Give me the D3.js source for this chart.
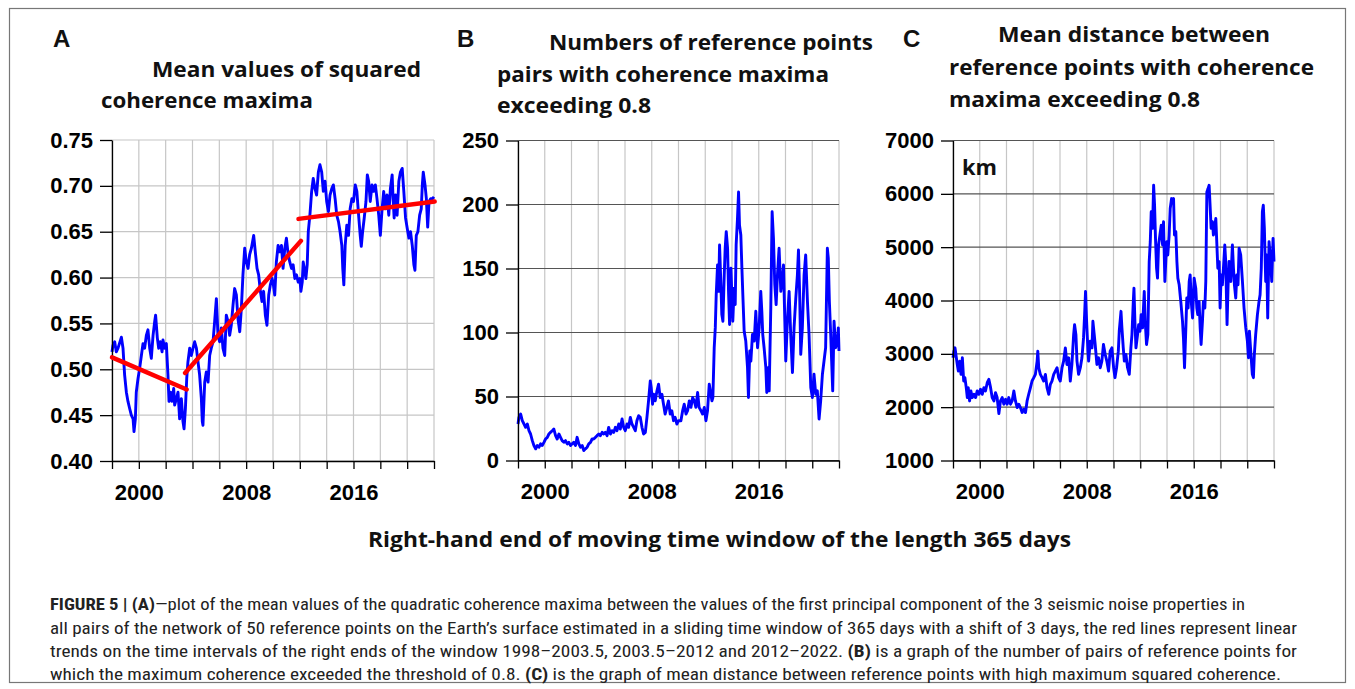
<!DOCTYPE html>
<html>
<head>
<meta charset="utf-8">
<script src="https://cdn.jsdelivr.net/npm/d3@7"></script>
<style>
  body { margin: 0; background: #fff; }
  svg text { font-family: "Liberation Sans", Arial, sans-serif; }
</style>
</head>
<body>
<svg id="fig" width="1355" height="689"></svg>
<script>
// ---- data: [year of window end, value] ----
const coherence = [
  [1998.00,0.519],[1998.07,0.526],[1998.20,0.530],[1998.32,0.519],[1998.45,0.523],[1998.70,0.535],[1998.82,0.523],[1998.94,0.494],
  [1999.07,0.475],[1999.19,0.465],[1999.32,0.457],[1999.44,0.450],[1999.57,0.446],[1999.64,0.432],[1999.74,0.446],[1999.81,0.475],
  [1999.94,0.490],[2000.06,0.501],[2000.19,0.515],[2000.31,0.528],[2000.43,0.523],[2000.56,0.537],[2000.68,0.543],[2000.81,0.523],
  [2000.93,0.512],[2001.06,0.537],[2001.18,0.552],[2001.25,0.559],[2001.38,0.534],[2001.48,0.523],[2001.60,0.530],[2001.73,0.519],
  [2001.80,0.532],[2001.93,0.523],[2002.05,0.528],[2002.17,0.494],[2002.25,0.465],[2002.37,0.475],[2002.47,0.465],[2002.60,0.479],
  [2002.67,0.461],[2002.80,0.468],[2002.92,0.475],[2003.04,0.446],[2003.17,0.468],[2003.29,0.443],[2003.37,0.435],[2003.47,0.457],
  [2003.57,0.490],[2003.66,0.508],[2003.79,0.523],[2003.91,0.515],[2004.04,0.523],[2004.16,0.530],[2004.29,0.523],[2004.41,0.508],
  [2004.53,0.494],[2004.66,0.468],[2004.73,0.443],[2004.78,0.439],[2004.91,0.486],[2005.03,0.497],[2005.16,0.486],[2005.28,0.515],
  [2005.40,0.523],[2005.53,0.530],[2005.65,0.552],[2005.78,0.577],[2005.90,0.537],[2006.02,0.530],[2006.15,0.545],[2006.27,0.523],
  [2006.40,0.515],[2006.52,0.559],[2006.65,0.552],[2006.77,0.537],[2006.89,0.548],[2007.02,0.570],[2007.14,0.588],[2007.27,0.581],
  [2007.39,0.555],[2007.52,0.541],[2007.64,0.566],[2007.76,0.603],[2007.89,0.632],[2008.01,0.617],[2008.14,0.610],[2008.26,0.625],
  [2008.39,0.632],[2008.56,0.646],[2008.68,0.628],[2008.81,0.610],[2008.93,0.603],[2009.06,0.585],[2009.18,0.574],[2009.30,0.585],
  [2009.43,0.559],[2009.55,0.548],[2009.68,0.581],[2009.80,0.592],[2009.93,0.599],[2010.00,0.595],[2010.13,0.581],[2010.25,0.617],
  [2010.38,0.635],[2010.50,0.628],[2010.63,0.635],[2010.75,0.610],[2010.88,0.632],[2011.00,0.643],[2011.13,0.625],[2011.25,0.617],
  [2011.38,0.610],[2011.50,0.614],[2011.63,0.599],[2011.75,0.603],[2011.88,0.595],[2012.00,0.599],[2012.08,0.585],[2012.18,0.595],
  [2012.25,0.617],[2012.38,0.606],[2012.45,0.599],[2012.55,0.614],[2012.63,0.650],[2012.75,0.668],[2012.88,0.694],[2013.00,0.708],
  [2013.13,0.697],[2013.25,0.690],[2013.38,0.715],[2013.50,0.723],[2013.63,0.715],[2013.75,0.694],[2013.88,0.705],[2014.00,0.683],
  [2014.13,0.672],[2014.25,0.690],[2014.38,0.697],[2014.50,0.701],[2014.63,0.686],[2014.75,0.668],[2014.88,0.661],[2015.00,0.650],
  [2015.13,0.635],[2015.20,0.610],[2015.28,0.592],[2015.38,0.635],[2015.50,0.657],[2015.63,0.646],[2015.75,0.675],[2015.88,0.686],
  [2016.00,0.683],[2016.13,0.701],[2016.25,0.694],[2016.38,0.668],[2016.50,0.646],[2016.58,0.634],[2016.68,0.650],[2016.80,0.665],
  [2016.93,0.683],[2017.03,0.712],[2017.13,0.705],[2017.25,0.683],[2017.38,0.701],[2017.50,0.694],[2017.63,0.701],[2017.75,0.686],
  [2017.88,0.668],[2018.00,0.646],[2018.13,0.675],[2018.25,0.694],[2018.38,0.675],[2018.50,0.690],[2018.63,0.668],[2018.75,0.697],
  [2018.88,0.712],[2018.95,0.686],[2019.03,0.665],[2019.13,0.690],[2019.25,0.668],[2019.38,0.705],[2019.50,0.715],[2019.63,0.719],
  [2019.75,0.694],[2019.88,0.665],[2020.00,0.654],[2020.13,0.643],[2020.25,0.650],[2020.38,0.635],[2020.50,0.614],[2020.58,0.608],
  [2020.68,0.646],[2020.80,0.650],[2020.93,0.668],[2021.05,0.675],[2021.13,0.701],[2021.20,0.715],[2021.33,0.701],[2021.43,0.686],
  [2021.53,0.655],[2021.63,0.683],[2021.75,0.686],[2021.88,0.686],[2022.00,0.688]
]

// linear trends of panel A, start and end points of each segment
const trendStart = [[1998.00,0.513],[2003.45,0.496],[2011.90,0.664]]
const trendEnd   = [[2003.57,0.478],[2012.08,0.640],[2022.05,0.683]]

const pairs = [
  [1998.00,28.5],[1998.07,33.7],[1998.20,36.3],[1998.32,31.1],[1998.45,28.5],[1998.57,25.9],[1998.70,28.5],[1998.82,23.3],
  [1998.94,20.7],[1999.07,15.5],[1999.19,11.7],[1999.32,9.1],[1999.44,11.7],[1999.57,10.4],[1999.69,13.0],[1999.81,11.7],
  [1999.94,14.2],[2000.06,16.8],[2000.19,18.1],[2000.31,20.7],[2000.43,22.0],[2000.56,23.3],[2000.68,24.6],[2000.81,19.4],
  [2000.93,16.8],[2001.06,20.7],[2001.18,18.1],[2001.30,15.5],[2001.43,14.2],[2001.55,15.5],[2001.68,13.0],[2001.80,14.2],
  [2001.93,11.7],[2002.05,13.0],[2002.17,14.2],[2002.30,11.7],[2002.42,18.1],[2002.55,13.0],[2002.67,10.4],[2002.80,11.7],
  [2002.92,7.8],[2003.04,9.1],[2003.17,10.4],[2003.29,13.0],[2003.42,14.2],[2003.54,16.8],[2003.66,16.8],[2003.79,18.1],
  [2003.91,19.4],[2004.04,20.7],[2004.16,19.4],[2004.29,22.0],[2004.41,20.7],[2004.53,22.0],[2004.66,19.4],[2004.78,25.9],
  [2004.91,20.7],[2005.03,23.3],[2005.16,22.0],[2005.28,25.9],[2005.40,23.3],[2005.53,28.5],[2005.65,24.6],[2005.78,32.4],
  [2005.90,25.9],[2006.02,23.3],[2006.15,28.5],[2006.27,25.9],[2006.40,33.7],[2006.52,28.5],[2006.65,25.9],[2006.77,23.3],
  [2006.89,31.1],[2007.02,35.0],[2007.14,33.7],[2007.27,25.9],[2007.39,20.7],[2007.52,22.0],[2007.64,33.7],[2007.76,46.6],
  [2007.89,62.2],[2007.96,57.0],[2008.06,44.0],[2008.14,51.8],[2008.26,46.6],[2008.39,54.4],[2008.51,59.6],[2008.63,49.2],
  [2008.76,51.8],[2008.88,44.0],[2009.00,36.3],[2009.13,41.5],[2009.25,46.6],[2009.38,36.3],[2009.50,38.9],[2009.63,31.1],
  [2009.75,33.7],[2009.88,28.5],[2010.00,31.1],[2010.18,31.1],[2010.31,38.9],[2010.43,44.0],[2010.56,36.3],[2010.68,38.9],
  [2010.81,46.6],[2010.93,41.5],[2011.06,49.2],[2011.18,46.6],[2011.30,41.5],[2011.43,53.1],[2011.54,41.5],[2011.68,38.9],
  [2011.80,36.3],[2011.93,41.5],[2012.05,31.1],[2012.17,38.9],[2012.30,59.6],[2012.42,51.8],[2012.50,46.6],[2012.57,49.2],
  [2012.67,88.1],[2012.75,103.6],[2012.82,129.5],[2012.92,152.8],[2013.00,132.1],[2013.07,168.4],[2013.17,137.3],[2013.24,114.0],
  [2013.32,108.8],[2013.42,145.1],[2013.49,165.8],[2013.57,178.8],[2013.67,165.8],[2013.74,132.1],[2013.82,106.2],[2013.92,150.3],
  [2013.99,129.5],[2014.06,108.8],[2014.16,134.7],[2014.24,121.8],[2014.31,168.4],[2014.41,189.1],[2014.49,209.8],[2014.56,183.9],
  [2014.66,176.2],[2014.74,150.3],[2014.81,129.5],[2014.91,101.0],[2015.03,93.3],[2015.16,72.5],[2015.23,49.2],[2015.33,85.5],
  [2015.41,77.7],[2015.53,98.4],[2015.66,93.3],[2015.78,116.6],[2015.91,88.1],[2016.03,103.6],[2016.15,132.1],[2016.23,116.6],
  [2016.30,98.4],[2016.40,88.1],[2016.53,72.5],[2016.60,53.1],[2016.70,72.5],[2016.78,54.4],[2016.90,119.2],[2017.00,194.3],
  [2017.10,173.6],[2017.20,137.3],[2017.30,121.8],[2017.40,145.1],[2017.52,165.8],[2017.65,132.1],[2017.77,142.5],[2017.85,152.8],
  [2017.92,121.8],[2018.02,77.7],[2018.14,108.8],[2018.27,132.1],[2018.39,98.4],[2018.52,68.7],[2018.64,103.6],[2018.77,126.9],
  [2018.89,145.1],[2018.97,164.5],[2019.06,129.5],[2019.14,82.9],[2019.26,103.6],[2019.39,145.1],[2019.51,160.6],[2019.64,124.4],
  [2019.76,98.4],[2019.89,57.0],[2020.01,49.2],[2020.13,67.4],[2020.26,51.8],[2020.38,54.4],[2020.51,32.4],[2020.63,46.6],
  [2020.76,67.4],[2020.88,77.7],[2021.00,88.1],[2021.13,165.8],[2021.20,158.0],[2021.28,124.4],[2021.38,98.4],[2021.45,77.7],
  [2021.53,54.4],[2021.63,108.8],[2021.75,88.1],[2021.88,93.3],[2021.95,103.6],[2022.00,85.5]
]

const distance = [
  [1998.00,2926],[1998.07,3050],[1998.15,3112],[1998.25,2926],[1998.32,2801],[1998.40,2677],[1998.50,2864],[1998.60,2615],
  [1998.70,2926],[1998.80,2490],[1998.89,2553],[1998.99,2366],[1999.07,2180],[1999.14,2366],[1999.24,2117],[1999.34,2304],
  [1999.44,2180],[1999.57,2242],[1999.69,2180],[1999.81,2304],[1999.94,2242],[2000.06,2335],[2000.19,2242],[2000.31,2366],
  [2000.43,2304],[2000.56,2459],[2000.68,2522],[2000.81,2366],[2000.93,2180],[2001.06,2117],[2001.18,2273],[2001.30,2180],
  [2001.43,1880],[2001.55,2117],[2001.68,2180],[2001.80,2055],[2001.93,2148],[2002.05,2055],[2002.17,2180],[2002.30,2055],
  [2002.42,2117],[2002.55,2304],[2002.67,2117],[2002.80,1993],[2002.92,2055],[2003.04,1993],[2003.17,1900],[2003.29,1962],
  [2003.42,1900],[2003.54,2117],[2003.66,2242],[2003.79,2366],[2003.91,2490],[2004.04,2553],[2004.16,2615],[2004.29,2864],
  [2004.34,3050],[2004.41,2739],[2004.53,2615],[2004.66,2553],[2004.78,2490],[2004.91,2615],[2005.03,2366],[2005.16,2242],
  [2005.28,2428],[2005.40,2490],[2005.53,2615],[2005.65,2677],[2005.78,2739],[2005.90,2553],[2006.02,2490],[2006.15,2739],
  [2006.27,2864],[2006.40,3112],[2006.52,2801],[2006.65,2926],[2006.77,2490],[2006.89,2801],[2007.02,3361],[2007.09,3548],
  [2007.19,3361],[2007.27,2864],[2007.39,2615],[2007.52,2739],[2007.64,2926],[2007.76,3299],[2007.84,3735],[2007.91,4170],
  [2007.99,3610],[2008.09,3050],[2008.14,2864],[2008.26,3237],[2008.39,3112],[2008.46,3610],[2008.56,3361],[2008.63,3175],
  [2008.76,2801],[2008.88,2926],[2009.01,2739],[2009.13,2864],[2009.25,3175],[2009.38,2988],[2009.50,2864],[2009.63,2677],
  [2009.75,3050],[2009.88,3112],[2010.01,2739],[2010.11,2553],[2010.23,2739],[2010.36,3050],[2010.43,3424],[2010.56,3797],
  [2010.63,3486],[2010.73,3112],[2010.81,2864],[2010.93,2988],[2011.05,2739],[2011.18,2615],[2011.30,3112],[2011.38,3361],
  [2011.48,3983],[2011.53,4232],[2011.60,3610],[2011.68,3112],[2011.80,3361],[2011.88,3548],[2011.98,3424],[2012.07,3735],
  [2012.17,3486],[2012.30,4170],[2012.37,3610],[2012.47,3175],[2012.57,3361],[2012.67,4730],[2012.75,5103],[2012.82,5663],
  [2012.92,5352],[2013.00,6160],[2013.07,5787],[2013.14,5165],[2013.22,4605],[2013.29,4419],[2013.37,5041],[2013.47,5227],
  [2013.57,5414],[2013.67,5041],[2013.74,5476],[2013.84,4357],[2013.92,4792],[2013.99,5103],[2014.06,4854],[2014.16,5227],
  [2014.24,5725],[2014.34,5911],[2014.41,5849],[2014.49,5911],[2014.56,5227],[2014.66,5290],[2014.74,4730],[2014.81,4419],
  [2014.91,4294],[2015.03,3983],[2015.16,3610],[2015.23,3299],[2015.31,2739],[2015.41,3486],[2015.48,4046],[2015.58,3859],
  [2015.66,4357],[2015.73,4481],[2015.83,3921],[2015.91,3672],[2016.03,4419],[2016.15,4232],[2016.23,3859],[2016.30,3735],
  [2016.40,3983],[2016.48,3486],[2016.55,3175],[2016.65,3610],[2016.72,3983],[2016.83,3859],[2016.90,4357],[2016.98,6036],
  [2017.07,6098],[2017.15,6160],[2017.22,5787],[2017.30,5352],[2017.40,5476],[2017.47,5227],[2017.55,5352],[2017.65,5538],
  [2017.72,5103],[2017.80,4605],[2017.90,4730],[2017.97,3859],[2018.05,4481],[2018.14,4294],[2018.22,4605],[2018.32,5041],
  [2018.39,4730],[2018.49,3548],[2018.57,4294],[2018.64,4730],[2018.77,4357],[2018.89,5041],[2018.97,4605],[2019.04,4294],
  [2019.14,4046],[2019.22,4481],[2019.31,4294],[2019.39,4979],[2019.51,4854],[2019.64,4357],[2019.76,3859],[2019.89,3486],
  [2020.01,3237],[2020.09,2926],[2020.16,3424],[2020.26,3050],[2020.38,2615],[2020.46,2553],[2020.53,2988],[2020.63,3361],
  [2020.76,3735],[2020.88,3983],[2020.96,4108],[2021.05,4605],[2021.13,5663],[2021.20,5787],[2021.28,5352],[2021.38,4357],
  [2021.45,4854],[2021.53,3672],[2021.63,5103],[2021.75,4730],[2021.83,4357],[2021.93,5165],[2022.00,4730]
]

// axis ticks and labels
const gridYears = [1998, 2000, 2002, 2004, 2006, 2008, 2010, 2012, 2014, 2016, 2018, 2020, 2022]
const labelYears = [2000, 2008, 2016]
const ticksA = [0.40, 0.45, 0.50, 0.55, 0.60, 0.65, 0.70, 0.75]
const ticksB = [0, 50, 100, 150, 200, 250]
const ticksC = [1000, 2000, 3000, 4000, 5000, 6000, 7000]

const titleA = ['Mean values of squared', 'coherence maxima']
const titleB = ['Numbers of reference points', 'pairs with coherence maxima', 'exceeding 0.8']
const titleC = ['Mean distance between', 'reference points with coherence', 'maxima exceeding 0.8']

const svg = d3.select('#fig')

// outer frame
svg.append('rect')
  .attr('x', 9.5).attr('y', 8.5).attr('width', 1336).attr('height', 674)
  .attr('fill', 'none').attr('stroke', '#777').attr('stroke-width', 1.2)

const panels = [
  {letter: 'A', x0: 112, x1: 434, y0: 140, y1: 461, domain: [0.40, 0.75], ticks: ticksA,
   fmt: d3.format('.2f'), data: coherence, hgrid: '#c6c6c6'},
  {letter: 'B', x0: 518, x1: 839, y0: 140.5, y1: 460.5, domain: [0, 250], ticks: ticksB,
   fmt: d3.format('d'), data: pairs, hgrid: '#555'},
  {letter: 'C', x0: 953, x1: 1274, y0: 140.5, y1: 460.5, domain: [1000, 7000], ticks: ticksC,
   fmt: d3.format('d'), data: distance, hgrid: '#555'}
]

function drawPanel(p)
{
  const scalex = d3.scaleLinear().domain([1998, 2022]).range([p.x0, p.x1])
  const scaley = d3.scaleLinear().domain(p.domain).range([p.y1, p.y0])
  const g = svg.append('g')

  g.selectAll('line.vg')
    .data(gridYears)
    .enter()
    .append('line')
    .attr('x1', d => scalex(d)).attr('x2', d => scalex(d))
    .attr('y1', p.y0).attr('y2', p.y1)
    .attr('stroke', '#c6c6c6').attr('stroke-width', 1.2)

  g.selectAll('line.hg')
    .data(p.ticks)
    .enter()
    .append('line')
    .attr('x1', p.x0).attr('x2', p.x1)
    .attr('y1', d => scaley(d)).attr('y2', d => scaley(d))
    .attr('stroke', p.hgrid).attr('stroke-width', 1.2)

  g.append('path')
    .datum(p.data)
    .attr('fill', 'none')
    .attr('stroke', '#0000ff')
    .attr('stroke-width', 2.9)
    .attr('stroke-linejoin', 'round')
    .attr('d', d3.line()
      .x(d => scalex(d[0]))
      .y(d => scaley(d[1]))
    )

  const ya = g.append('g')
    .attr('transform', 'translate(' + p.x0 + ',0)')
    .call(
      d3.axisLeft(scaley)
        .tickValues(p.ticks)
        .tickFormat(p.fmt)
        .tickSize(12)
        .tickSizeOuter(0)
        .tickPadding(7)
    )
  const xa = g.append('g')
    .attr('transform', 'translate(0,' + p.y1 + ')')
    .call(
      d3.axisBottom(scalex)
        .tickValues(gridYears)
        .tickFormat(d => labelYears.includes(d) ? d : '')
        .tickSize(8)
        .tickSizeOuter(0)
        .tickPadding(15)
    )
  for (const a of [ya, xa]) {
    a.attr('font-family', '"Liberation Sans", Arial, sans-serif')
      .attr('font-size', 22)
      .attr('font-weight', 'bold')
    a.selectAll('line, path').attr('stroke', '#000').attr('stroke-width', 1.3)
    a.selectAll('text').attr('fill', '#000')
  }
  return {scalex, scaley, g}
}

const drawn = panels.map(drawPanel)

// red linear trends on panel A
drawn[0].g.selectAll('line.trend')
  .data(trendStart)
  .enter()
  .append('line')
  .attr('x1', d => drawn[0].scalex(d[0]))
  .attr('y1', d => drawn[0].scaley(d[1]))
  .attr('x2', (d, i) => drawn[0].scalex(trendEnd[i][0]))
  .attr('y2', (d, i) => drawn[0].scaley(trendEnd[i][1]))
  .attr('stroke', '#ff0000')
  .attr('stroke-width', 4.5)
  .attr('stroke-linecap', 'round')

// headings
function addText(str, x, y, size, len, family)
{
  const t = svg.append('text')
    .attr('x', x).attr('y', y)
    .attr('font-size', size)
    .attr('font-weight', 'bold')
    .attr('fill', '#111')
    .text(str)
  if (family) t.style('font-family', family)
  if (len) t.attr('textLength', len).attr('lengthAdjust', 'spacingAndGlyphs')
  return t
}

addText('A', 53, 47, 24)
addText('B', 457, 47, 24)
addText('C', 903, 47, 24)

const headFont = '"Open Sans", "Noto Sans", sans-serif'
addText(titleA[0], 152, 77, 20.5, 269, headFont)
addText(titleA[1], 101, 108, 20.5, 212, headFont)
addText(titleB[0], 549, 50, 20.5, 324, headFont)
addText(titleB[1], 497, 82, 20.5, 332, headFont)
addText(titleB[2], 497, 113, 20.5, 154, headFont)
addText(titleC[0], 998, 42, 20.5, 272, headFont)
addText(titleC[1], 949, 75, 20.5, 365, headFont)
addText(titleC[2], 949, 107, 20.5, 251, headFont)
addText('km', 962, 175, 20.5, 35, headFont)

addText('Right-hand end of moving time window of the length 365 days', 368, 547, 22, 703, headFont)

// caption
const captionLines = [
  [['FIGURE 5 | (A)', true], ['—plot of the mean values of the quadratic coherence maxima between the values of the first principal component of the 3 seismic noise properties in', false]],
  [['all pairs of the network of 50 reference points on the Earth\u2019s surface estimated in a sliding time window of 365 days with a shift of 3 days, the red lines represent linear', false]],
  [['trends on the time intervals of the right ends of the window 1998\u20132003.5, 2003.5\u20132012 and 2012\u20132022. ', false], ['(B)', true], [' is a graph of the number of pairs of reference points for', false]],
  [['which the maximum coherence exceeded the threshold of 0.8. ', false], ['(C)', true], [' is the graph of mean distance between reference points with high maximum squared coherence.', false]]
]
const captionEnds = [1245, 1297, 1297, 1281]
const captionY = [610, 633.5, 657, 680]

captionLines.forEach((parts, i) => {
  const t = svg.append('text')
    .attr('x', 50).attr('y', captionY[i])
    .attr('font-size', 16.5)
    .attr('fill', '#222')
    .style('font-family', '"Liberation Sans Narrow", "Roboto Condensed", "Liberation Sans", sans-serif')
    .attr('textLength', captionEnds[i] - 50)
    .attr('lengthAdjust', 'spacingAndGlyphs')
  t.selectAll('tspan')
    .data(parts)
    .enter()
    .append('tspan')
    .attr('font-weight', d => d[1] ? 'bold' : 'normal')
    .text(d => d[0])
})
</script>
</body>
</html>
